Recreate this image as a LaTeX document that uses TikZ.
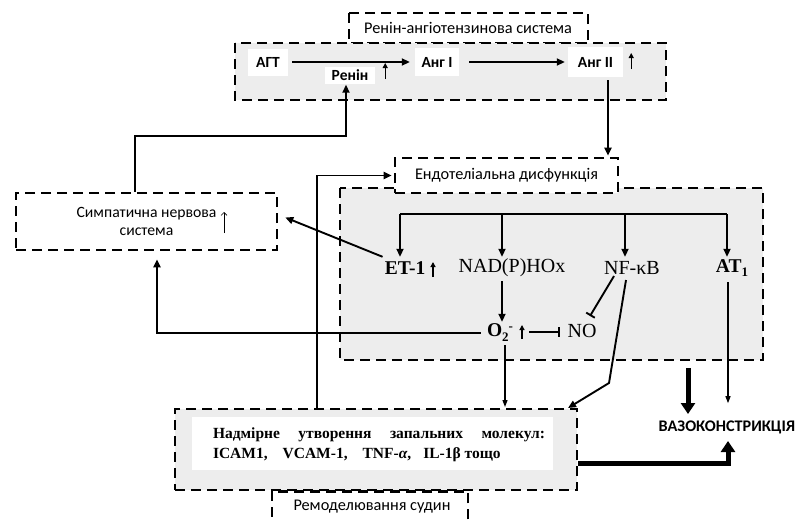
\documentclass[tikz,border=0pt]{standalone}
\usepackage{fontspec}
\setmainfont{Liberation Serif}
\newfontfamily\carl{Carlito}
\usetikzlibrary{arrows.meta}
\begin{document}
\begin{tikzpicture}[x=1pt,y=-1pt,
 dbox/.style={draw=black,line width=2.6pt,dash pattern=on 10pt off 6pt},
 ras/.style={font=\carl\bfseries\fontsize{15.5}{17}\selectfont,fill=white,inner sep=0pt},
 ttl/.style={font=\carl\fontsize{16.3}{18}\selectfont},
 ser/.style={font=\fontsize{20}{22}\selectfont,inner sep=0pt,minimum height=22pt},
 serb/.style={font=\bfseries\fontsize{19.5}{22}\selectfont,inner sep=0pt,minimum height=22pt},
 arr/.style={line width=1.9pt,-{Triangle[length=8pt,width=7pt]}},
 tarr/.style={line width=1.2pt,-{Triangle[length=7pt,width=5pt]}},
 barr/.style={line width=5pt,-{Triangle[length=11pt,width=14pt]}},
 inh/.style={line width=1.9pt,-{Bar[width=10pt,line width=1.9pt]}},
 uparr/.style={line width=1.5pt,-{Triangle[length=5pt,width=5pt]}},
 thinup/.style={line width=0.6pt,-{Straight Barb[length=3pt,width=6pt]}},
]
\fill[white] (0,0) rectangle (805,522);
\useasboundingbox (0,0) rectangle (805,522);

% ---- Renin-angiotensin system
\draw[dbox,fill=white] (349,13) rectangle (588,43);
\draw[dbox,fill=black!7] (235,43) rectangle (666,100);
\node[ttl] (rastitle) at (468,28) {Ренін-ангіотензинова система};
\node[ras,minimum width=40pt,minimum height=27pt] (agt) at (268,62) {АГТ};
\node[ras,minimum width=50pt,minimum height=17pt] (renin) at (350,75) {Ренін};
\node[ras,minimum width=44pt,minimum height=28pt] (ang1) at (437,62) {Анг I};
\node[ras,minimum width=55pt,minimum height=30pt] (ang2) at (595.5,62) {Анг II};
\draw[arr] ([xshift=4pt]agt.east) -- ([xshift=-5pt]ang1.west);
\draw[arr] ([xshift=10pt]ang1.east) -- ([xshift=-3pt]ang2.west);
\draw[uparr,line width=1.2pt] ([xshift=10pt,yshift=-4pt]renin.east) -- ++(0,-16);
\draw[uparr,line width=1.2pt] ([xshift=8pt,yshift=-7pt]ang2.east) -- ++(0,-16);

% ---- Sympathetic system
\node[dbox,fill=white,minimum width=261pt,minimum height=57pt,inner sep=0pt,align=center,
      font=\carl\fontsize{15.7}{18}\selectfont] (sym) at (146.5,221.5)
      {Симпатична нервова\hspace{12pt}\\система};
\draw[thinup] (224,233) -- (224,212);

% ---- Endothelial dysfunction
\draw[dbox,fill=black!7] (340,188) rectangle (763,360);
\node[dbox,fill=white,minimum width=223pt,minimum height=35pt,ttl] (endotitle) at (506.5,175.5) {Ендотеліальна дисфункція};

\node[serb] (et1) at (405,268) {ET-1};
\node[ser] (nad) at (512,268) {NAD(P)HOx};
\node[ser] (nfkb) at (632,268) {NF-κB};
\node[serb] (at1) at (732,268) {AT\raisebox{-4pt}{\fontsize{13}{13}\selectfont 1}};
\node[serb] (o2) at (500,333) {O\raisebox{-5pt}{\fontsize{13}{13}\selectfont 2}\raisebox{6pt}{\fontsize{13}{13}\selectfont -}};
\node[ser] (no) at (582,331) {NO};

\coordinate (bL) at (400,214);
\coordinate (b2) at (502,214);
\coordinate (b3) at (625,214);
\coordinate (bR) at (727,214);
\draw[line width=1.9pt] (bL) -- (bR);
\draw[arr] (bL) -- (bL |- et1.north);
\draw[arr] (b2) -- (b2 |- nad.north);
\draw[arr] (b3) -- (b3 |- nfkb.north);
\draw[arr] (bR) -- (bR |- at1.north);
\draw[uparr] (433,277) -- (433,262);
\draw[uparr] (522,339) -- (522,325);

\coordinate (nadd) at (502,281);
\draw[arr] (nadd) -- (nadd |- o2.north);
\draw[inh] (529,332) -- (560,332);
\draw[inh] (614,276) -- (590,316);

% ---- Inflammation box and remodelling
\node[dbox,fill=white,minimum width=196pt,minimum height=40pt,anchor=north] (remod) at (370,490) {};
\node[dbox,fill=black!7,minimum width=402pt,minimum height=81pt] (inflam) at (376,449.5) {};
\node[fill=white,minimum width=361pt,minimum height=53pt,inner sep=0pt] (inflambg) at (372.5,443.5) {};
\node[font=\bfseries\fontsize{15.5}{20}\selectfont,align=left,inner sep=0pt] (inftext) at (379,445)
  {\makebox[332pt][s]{Надмірне утворення запальних молекул:}\\ICAM1,\hspace{15pt}VCAM-1,\hspace{15pt}TNF-\textit{α},\hspace{12pt}IL-1β тощо};
\node[ttl] (remtext) at (372,507) {Ремоделювання судин};

\node[font=\carl\bfseries\fontsize{16.2}{18}\selectfont] (vaso) at (727,427) {ВАЗОКОНСТРИКЦІЯ};

% ---- connectors
\draw[arr] ([xshift=-11.5pt]sym.north) -- ++(0,-56) -| ([xshift=-4pt,yshift=-1pt]renin.south);
\coordinate (a2d) at ([xshift=12.5pt,yshift=-3pt]ang2.south);
\draw[arr] (a2d) -- ([yshift=1pt]a2d |- endotitle.north);
\coordinate (symb) at ([xshift=10.5pt,yshift=-8pt]sym.south);
\draw[arr] ([xshift=-6pt]o2.west) -| (symb);
\draw[arr] ([xshift=-2pt]et1.north west) -- ([xshift=7pt,yshift=4pt]sym.east);
\coordinate (bu) at ([xshift=-59pt]inflam.north);
\draw[arr] (bu) |- ([xshift=-2pt]endotitle.west);
\draw[arr] (626,280) -- (609,383) -- (568,408);
\draw[tarr] (505,345) -- (505,407);
\coordinate (at1d) at ([xshift=-4pt,yshift=-3pt]at1.south);
\draw[tarr] (at1d) -- ++(0,121);
\draw[barr] (688,368) -- (688,414);
\draw[barr] ([yshift=-13.5pt]inflam.east) -| (728,441);
\end{tikzpicture}
\end{document}
